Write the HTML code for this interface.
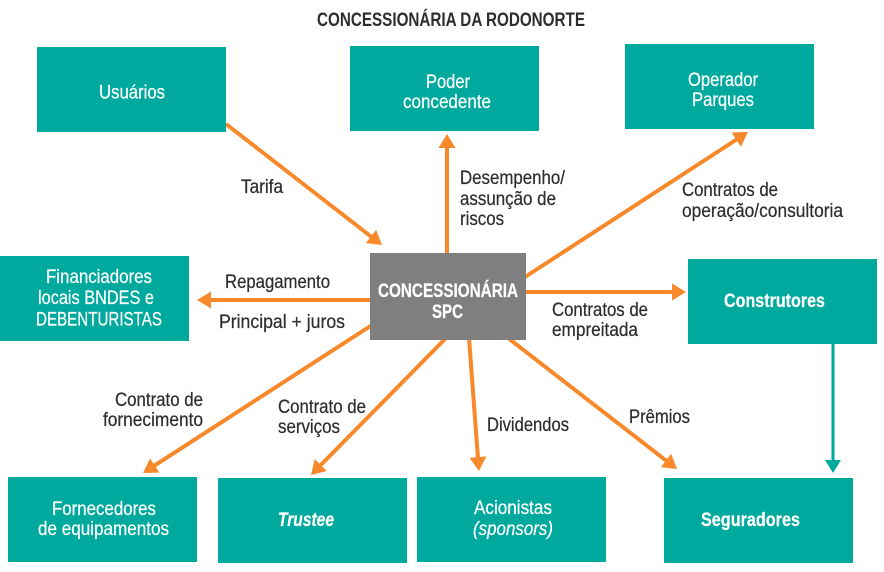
<!DOCTYPE html>
<html>
<head>
<meta charset="utf-8">
<style>
  html, body { margin:0; padding:0; background:#ffffff; }
  body { width:884px; height:572px; overflow:hidden; }
  svg { display:block; }
  .t { font-family:"Liberation Sans", Arial, sans-serif; }
  .lbl { font-size:19.5px; fill:#2e2e2e; stroke:#2e2e2e; stroke-width:0.25px; }
  .box { font-size:19.5px; fill:#ffffff; stroke:#ffffff; stroke-width:0.25px; }
</style>
</head>
<body>
<svg width="884" height="572" viewBox="0 0 884 572" xmlns="http://www.w3.org/2000/svg">
  <defs>
    <marker id="ao" markerUnits="userSpaceOnUse" markerWidth="16" markerHeight="18" refX="4" refY="8.5" orient="auto">
      <path d="M0,0 L14,8.5 L0,17 z" fill="#f7892b"/>
    </marker>
    <marker id="at" markerUnits="userSpaceOnUse" markerWidth="16" markerHeight="18" refX="3" refY="8" orient="auto">
      <path d="M0,0 L13,8 L0,16 z" fill="#00a99d"/>
    </marker>
  </defs>

  <!-- connectors -->
  <g stroke="#f7892b" stroke-width="4" fill="none">
    <line x1="226" y1="124" x2="374.1" y2="238.9" marker-end="url(#ao)"/>
    <line x1="447" y1="255" x2="447" y2="144" marker-end="url(#ao)"/>
    <line x1="525" y1="277" x2="739.6" y2="137.5" marker-end="url(#ao)"/>
    <line x1="372" y1="300" x2="207" y2="300" marker-end="url(#ao)"/>
    <line x1="524" y1="292" x2="676" y2="292" marker-end="url(#ao)"/>
    <line x1="372" y1="325" x2="151.4" y2="467.6" marker-end="url(#ao)"/>
    <line x1="446" y1="338" x2="318" y2="467.9" marker-end="url(#ao)"/>
    <line x1="469" y1="338" x2="478.2" y2="461" marker-end="url(#ao)"/>
    <line x1="508" y1="338" x2="669.1" y2="462.9" marker-end="url(#ao)"/>
  </g>
  <line x1="833" y1="344" x2="833" y2="463" stroke="#00a99d" stroke-width="3" marker-end="url(#at)"/>

  <!-- boxes -->
  <g fill="#00a99d">
    <rect x="37" y="47" width="189" height="85"/>
    <rect x="350" y="46" width="189" height="85"/>
    <rect x="625" y="44" width="189" height="85"/>
    <rect x="0" y="256" width="189" height="85"/>
    <rect x="688" y="259" width="189" height="85"/>
    <rect x="8" y="477" width="189" height="85"/>
    <rect x="218" y="478" width="189" height="85"/>
    <rect x="417" y="477" width="189" height="85"/>
    <rect x="664" y="478" width="189" height="85"/>
  </g>
  <rect x="370" y="253" width="156" height="87" fill="#7f7f7f"/>

  <!-- title -->
  <text class="t" x="317" y="26" font-size="19.5" font-weight="bold" fill="#2d2d2d" textLength="268" lengthAdjust="spacingAndGlyphs">CONCESSIONÁRIA DA RODONORTE</text>

  <!-- box texts -->
  <text class="t box" x="99" y="98.5" textLength="66" lengthAdjust="spacingAndGlyphs">Usuários</text>
  <text class="t box" x="426" y="88" textLength="44" lengthAdjust="spacingAndGlyphs">Poder</text>
  <text class="t box" x="403" y="108" textLength="88" lengthAdjust="spacingAndGlyphs">concedente</text>
  <text class="t box" x="688" y="86" textLength="70" lengthAdjust="spacingAndGlyphs">Operador</text>
  <text class="t box" x="692" y="106" textLength="62" lengthAdjust="spacingAndGlyphs">Parques</text>
  <text class="t box" x="46" y="283" textLength="106" lengthAdjust="spacingAndGlyphs">Financiadores</text>
  <text class="t box" x="38" y="304" textLength="116" lengthAdjust="spacingAndGlyphs">locais BNDES e</text>
  <text class="t box" x="36" y="325.5" textLength="126" lengthAdjust="spacingAndGlyphs">DEBENTURISTAS</text>
  <text class="t box" x="378" y="297" font-size="19.5" font-weight="bold" textLength="140" lengthAdjust="spacingAndGlyphs">CONCESSIONÁRIA</text>
  <text class="t box" x="432" y="318" font-size="19.5" font-weight="bold" textLength="31" lengthAdjust="spacingAndGlyphs">SPC</text>
  <text class="t box" x="724" y="307" font-weight="bold" textLength="101" lengthAdjust="spacingAndGlyphs">Construtores</text>
  <text class="t box" x="52" y="515" textLength="104" lengthAdjust="spacingAndGlyphs">Fornecedores</text>
  <text class="t box" x="38" y="535" textLength="131" lengthAdjust="spacingAndGlyphs">de equipamentos</text>
  <text class="t box" x="278" y="526" font-weight="bold" font-style="italic" textLength="56" lengthAdjust="spacingAndGlyphs">Trustee</text>
  <text class="t box" x="474" y="514" textLength="78" lengthAdjust="spacingAndGlyphs">Acionistas</text>
  <text class="t box" x="473" y="535" font-style="italic" textLength="80" lengthAdjust="spacingAndGlyphs">(sponsors)</text>
  <text class="t box" x="701" y="526" font-weight="bold" textLength="99" lengthAdjust="spacingAndGlyphs">Seguradores</text>

  <!-- connector labels -->
  <text class="t lbl" x="241" y="193" textLength="42" lengthAdjust="spacingAndGlyphs">Tarifa</text>
  <text class="t lbl" x="460" y="184" textLength="105" lengthAdjust="spacingAndGlyphs">Desempenho/</text>
  <text class="t lbl" x="460" y="205" textLength="96" lengthAdjust="spacingAndGlyphs">assunção de</text>
  <text class="t lbl" x="460" y="225" textLength="44" lengthAdjust="spacingAndGlyphs">riscos</text>
  <text class="t lbl" x="682" y="196" textLength="96" lengthAdjust="spacingAndGlyphs">Contratos de</text>
  <text class="t lbl" x="682" y="217" textLength="161" lengthAdjust="spacingAndGlyphs">operação/consultoria</text>
  <text class="t lbl" x="225" y="288" textLength="105" lengthAdjust="spacingAndGlyphs">Repagamento</text>
  <text class="t lbl" x="219" y="328" textLength="126" lengthAdjust="spacingAndGlyphs">Principal + juros</text>
  <text class="t lbl" x="552" y="316" textLength="96" lengthAdjust="spacingAndGlyphs">Contratos de</text>
  <text class="t lbl" x="552" y="336" textLength="86" lengthAdjust="spacingAndGlyphs">empreitada</text>
  <text class="t lbl" x="115" y="406" textLength="88" lengthAdjust="spacingAndGlyphs">Contrato de</text>
  <text class="t lbl" x="103" y="426" textLength="100" lengthAdjust="spacingAndGlyphs">fornecimento</text>
  <text class="t lbl" x="278" y="413" textLength="88" lengthAdjust="spacingAndGlyphs">Contrato de</text>
  <text class="t lbl" x="278" y="433" textLength="62" lengthAdjust="spacingAndGlyphs">serviços</text>
  <text class="t lbl" x="487" y="431" textLength="82" lengthAdjust="spacingAndGlyphs">Dividendos</text>
  <text class="t lbl" x="629" y="423" textLength="61" lengthAdjust="spacingAndGlyphs">Prêmios</text>
</svg>
</body>
</html>
